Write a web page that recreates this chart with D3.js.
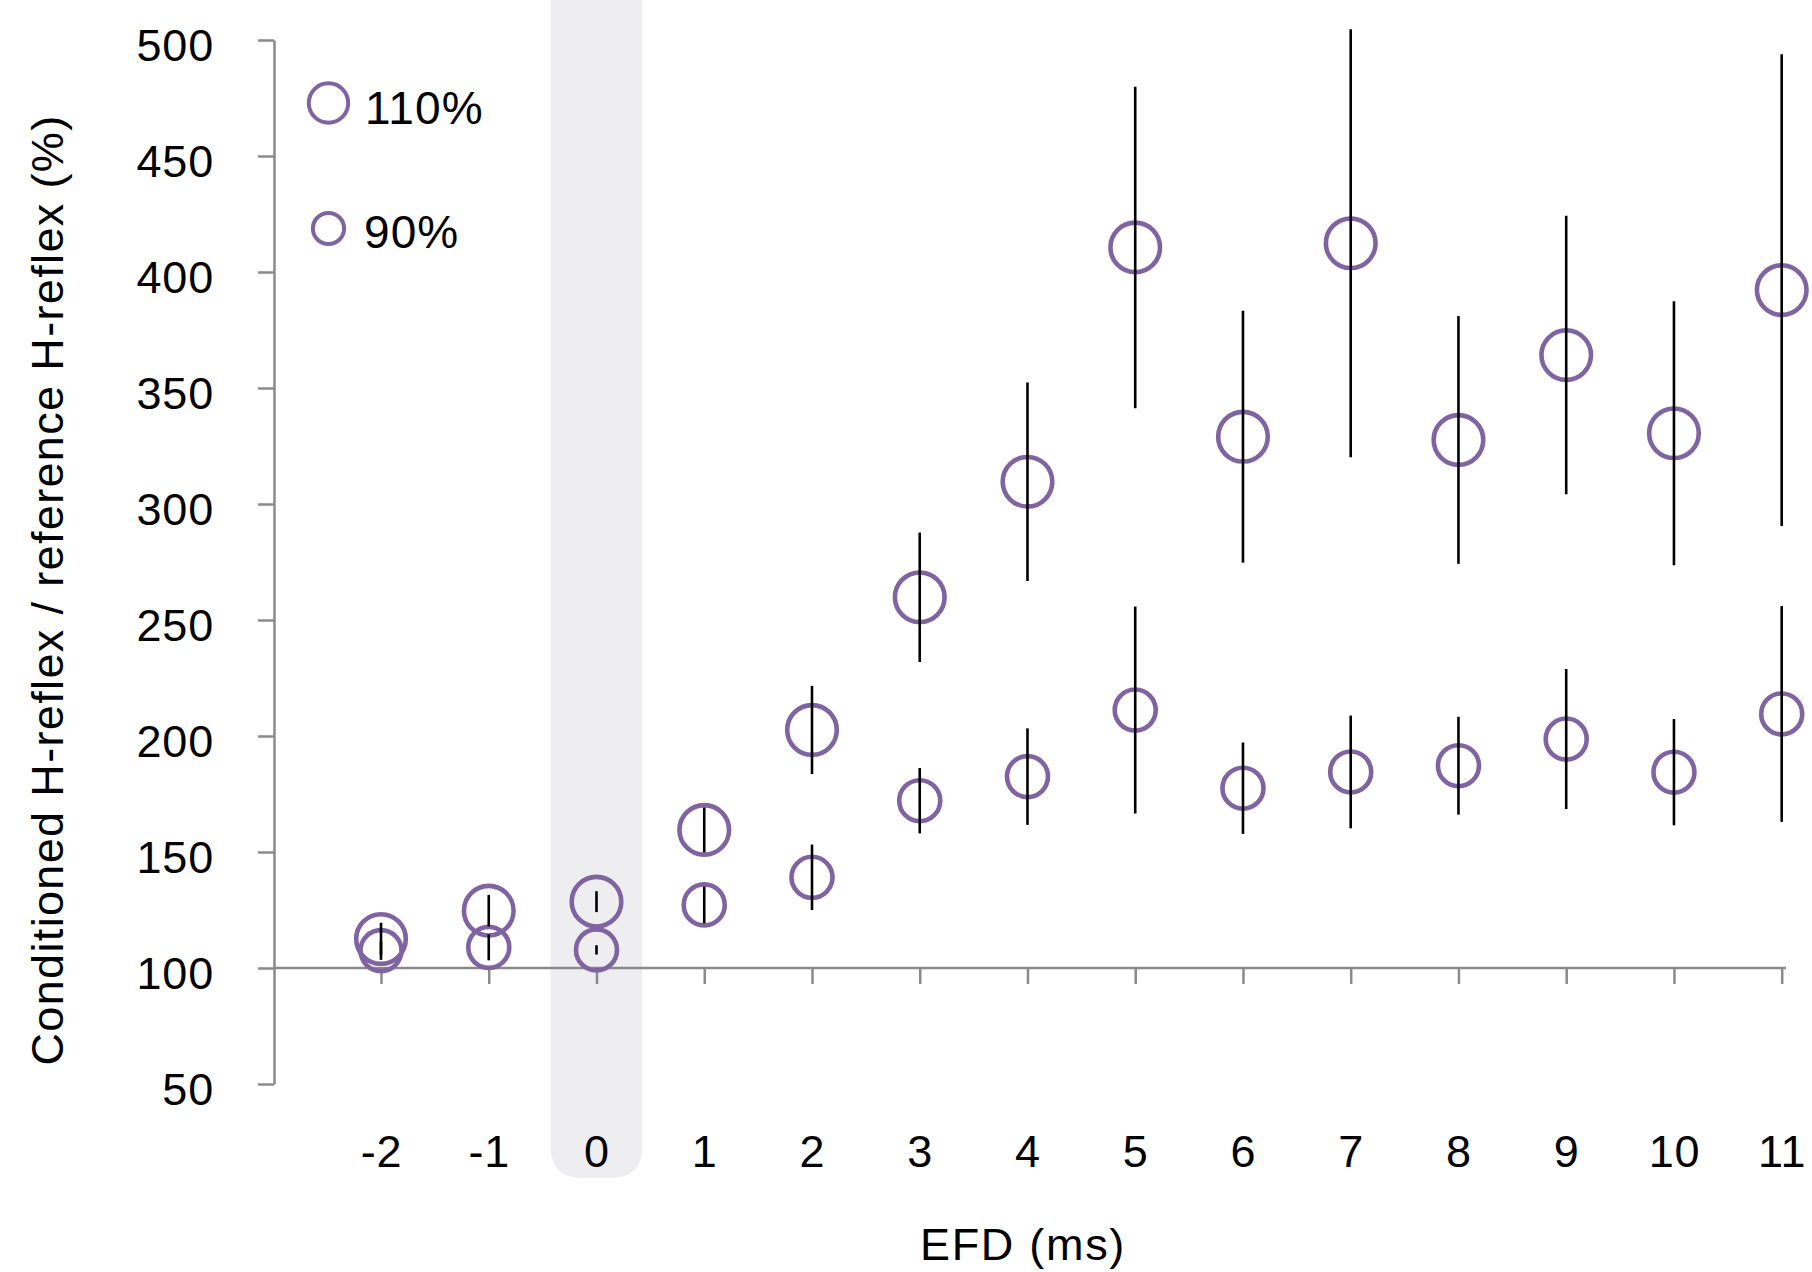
<!DOCTYPE html>
<html>
<head>
<meta charset="utf-8">
<script src="https://cdn.jsdelivr.net/npm/d3@7"></script>
<style>
  html, body { margin: 0; padding: 0; background: #fff; }
  svg { display: block; font-family: "Liberation Sans", Arial, sans-serif; }
</style>
</head>
<body>
<div id="chart"></div>
<script>
const efd = [-2, -1, 0, 1, 2, 3, 4, 5, 6, 7, 8, 9, 10, 11];
const mean110 = [112.5, 124.7, 128.6, 159.5, 202.6, 259.8, 309.6, 410.6, 329.0, 412.4, 327.6, 364.2, 330.5, 392.2];
const sd110 = [7.0, 6.8, 4.5, 9.7, 19.0, 27.9, 42.8, 69.3, 54.3, 92.2, 53.4, 60.0, 56.9, 101.7];
const mean90 = [107.5, 108.9, 107.8, 127.2, 139.1, 172.1, 182.5, 211.2, 177.5, 184.5, 187.2, 198.7, 184.4, 209.5];
const sd90 = [4.0, 5.6, 2.0, 7.9, 14.1, 14.1, 20.8, 44.6, 19.7, 24.3, 21.1, 30.2, 22.9, 46.5];
const yTicks = [50, 100, 150, 200, 250, 300, 350, 400, 450, 500];
const seriesNames = ["110%", "90%"];

const width = 1812;
const height = 1272;
const purple = "#8064a2";
const axisGray = "#8a8a8a";

const x = d3.scaleLinear().domain([-2, 11]).range([381, 1781.7]);
const y = d3.scaleLinear().domain([50, 500]).range([1084, 40]);
const axisLeftX = 274;
const axisRightX = 1786;

const svg = d3
  .select("#chart")
  .append("svg")
  .attr("width", width)
  .attr("height", height);

// shaded column at EFD 0
const bandHalf = 46;
const bandBottom = 1178;
const r = 32;
const bx0 = x(0) - bandHalf;
const bx1 = x(0) + bandHalf;
svg
  .append("path")
  .attr(
    "d",
    `M${bx0},0 L${bx1},0 L${bx1},${bandBottom - r} Q${bx1},${bandBottom} ${bx1 - r},${bandBottom} ` +
      `L${bx0 + r},${bandBottom} Q${bx0},${bandBottom} ${bx0},${bandBottom - r} Z`
  )
  .attr("fill", "#eeeef0");

const yAxis = svg
  .append("g")
  .attr("transform", `translate(${axisLeftX},0)`)
  .call(
    d3.axisLeft(y).tickValues(yTicks).tickSize(16).tickSizeOuter(0).tickPadding(44)
  );
yAxis.select(".domain").attr("stroke", axisGray).attr("stroke-width", 2.5);
yAxis.selectAll(".tick line").attr("stroke", axisGray).attr("stroke-width", 2.5);
yAxis
  .selectAll(".tick text")
  .attr("dy", 20)
  .attr("fill", "#000")
  .style("font-size", "45px")
  .style("letter-spacing", "0.8px");

const xAxis = svg
  .append("g")
  .attr("transform", `translate(0,${y(100)})`)
  .call(d3.axisBottom(x).tickValues(efd).tickSize(16).tickSizeOuter(0).tickFormat(d3.format("d")));
xAxis
  .select(".domain")
  .attr("d", `M${axisLeftX},0H${axisRightX}`)
  .attr("stroke", axisGray)
  .attr("stroke-width", 2.5);
xAxis.selectAll(".tick line").attr("stroke", axisGray).attr("stroke-width", 2.5);
xAxis
  .selectAll(".tick text")
  .attr("y", 199)
  .attr("dy", 0)
  .attr("fill", "#000")
  .style("font-size", "45px")
  .style("letter-spacing", "0.8px")
  .text((d) => (d < 0 ? "-" + Math.abs(d) : d));

const rows110 = efd.map((d, i) => ({ efd: d, mean: mean110[i], sd: sd110[i] }));
const rows90 = efd.map((d, i) => ({ efd: d, mean: mean90[i], sd: sd90[i] }));

const drawSeries = (rows, radius) => {
  const g = svg.append("g");
  g.selectAll("circle")
    .data(rows)
    .join("circle")
    .attr("cx", (d) => x(d.efd))
    .attr("cy", (d) => y(d.mean))
    .attr("r", radius)
    .attr("fill", "none")
    .attr("stroke", purple)
    .attr("stroke-width", 4.6);
  return g;
};

const drawBars = (rows) => {
  svg
    .append("g")
    .attr("stroke", "#000")
    .attr("stroke-width", 2.6)
    .selectAll("line")
    .data(rows)
    .join("line")
    .attr("x1", (d) => x(d.efd))
    .attr("x2", (d) => x(d.efd))
    .attr("y1", (d) => y(d.mean + d.sd))
    .attr("y2", (d) => y(d.mean - d.sd));
};

drawSeries(rows90, 20.5);
drawSeries(rows110, 24.8);
drawBars(rows90);
drawBars(rows110);

const legend = svg.append("g");
const legendItems = [
  { name: seriesNames[0], cy: 103, r: 19.7, tx: 365, ty: 124 },
  { name: seriesNames[1], cy: 228.5, r: 15.6, tx: 364, ty: 248 },
];
legend
  .selectAll("circle")
  .data(legendItems)
  .join("circle")
  .attr("cx", 328.5)
  .attr("cy", (d) => d.cy)
  .attr("r", (d) => d.r)
  .attr("fill", "none")
  .attr("stroke", purple)
  .attr("stroke-width", 4);
legend
  .selectAll("text")
  .data(legendItems)
  .join("text")
  .attr("x", (d) => d.tx)
  .attr("y", (d) => d.ty)
  .text((d) => d.name)
  .style("font-size", "46px")
  .style("letter-spacing", "1.1px")
  .attr("fill", "#000");

svg
  .append("text")
  .attr("transform", "translate(63,590) rotate(-90)")
  .attr("text-anchor", "middle")
  .style("font-size", "45px")
  .style("letter-spacing", "1.35px")
  .text("Conditioned H-reflex / reference H-reflex (%)");

svg
  .append("text")
  .attr("x", 1023)
  .attr("y", 1260)
  .attr("text-anchor", "middle")
  .style("font-size", "45px")
  .style("letter-spacing", "1.7px")
  .text("EFD (ms)");
</script>
</body>
</html>
